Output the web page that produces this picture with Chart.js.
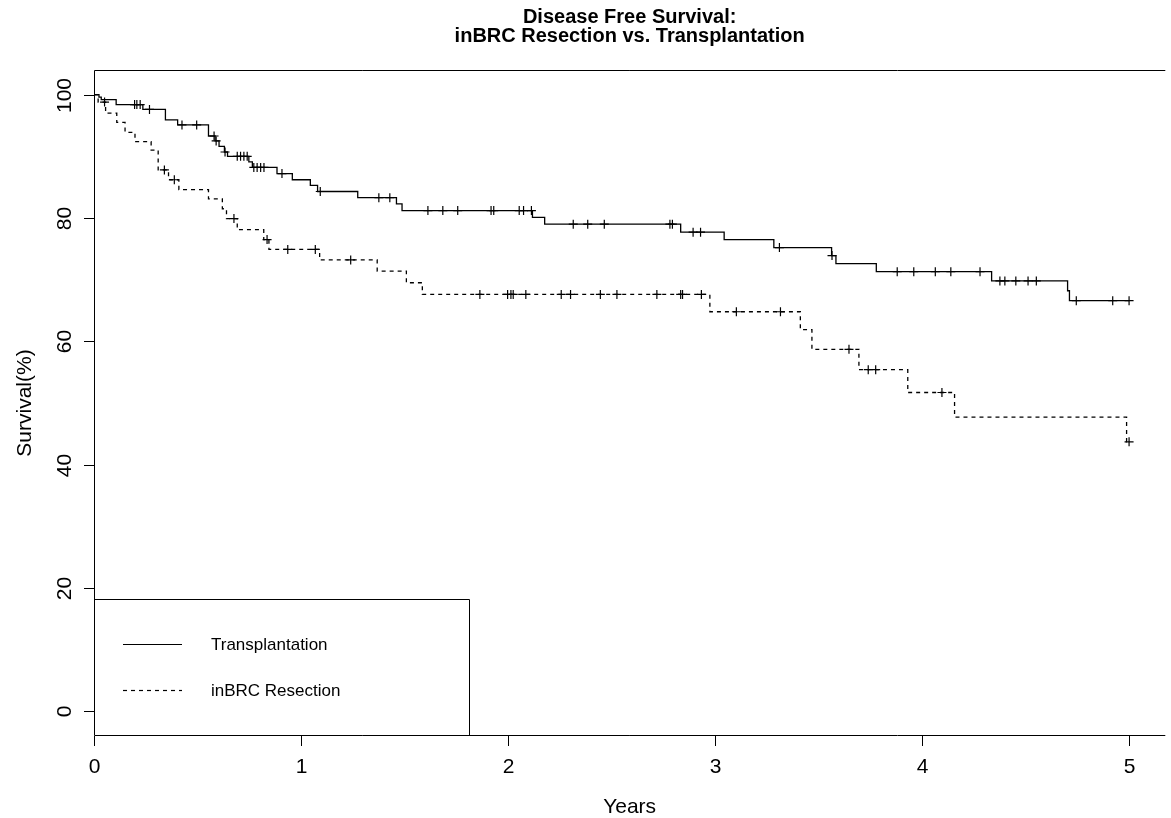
<!DOCTYPE html>
<html>
<head>
<meta charset="utf-8">
<script src="https://cdn.jsdelivr.net/npm/chart.js@4.4.0/dist/chart.umd.min.js"></script>
<style>
  body { margin: 0; background: #fff; }
  #wrap { width: 1171px; height: 818px; }
</style>
</head>
<body>
<div id="wrap"><canvas id="canvas" width="1171" height="818"></canvas></div>
<script>
  // Kaplan-Meier steps (years, survival %)
  const trTimes = [0, 0.024, 0.035, 0.107, 0.236, 0.345, 0.404, 0.553, 0.585, 0.604, 0.630, 0.645, 0.748, 0.765, 0.884, 0.958, 1.045, 1.080, 1.274, 1.461, 1.488, 2.118, 2.177, 2.834, 3.044, 3.284, 3.563, 3.584, 3.779, 4.336, 4.703, 4.712, 5.0];
  const trSurv  = [100, 99.6, 99.2, 98.4, 97.6, 95.9, 95.1, 93.3, 92.5, 91.6, 90.7, 90.0, 89.1, 88.2, 87.2, 86.2, 85.3, 84.3, 83.3, 82.3, 81.2, 80.1, 79.0, 77.7, 76.5, 75.2, 73.9, 72.6, 71.3, 69.8, 68.2, 66.6, 66.6];
  const trCensor = [0, 0.196, 0.207, 0.223, 0.268, 0.425, 0.496, 0.58, 0.59, 0.633, 0.692, 0.708, 0.724, 0.74, 0.772, 0.788, 0.805, 0.821, 0.908, 1.093, 1.376, 1.429, 1.613, 1.685, 1.757, 1.918, 1.931, 2.054, 2.075, 2.113, 2.315, 2.385, 2.465, 2.782, 2.794, 2.894, 2.93, 3.311, 3.565, 3.88, 3.96, 4.064, 4.139, 4.28, 4.376, 4.40, 4.453, 4.512, 4.552, 4.745, 4.921, 5.0];

  const reTimes = [0, 0.02, 0.056, 0.11, 0.15, 0.198, 0.276, 0.31, 0.36, 0.41, 0.553, 0.62, 0.64, 0.692, 0.82, 0.845, 1.09, 1.368, 1.509, 1.586, 2.975, 3.412, 3.468, 3.695, 3.931, 4.157, 4.988, 5.0];
  const reSurv  = [100, 98.8, 97.0, 95.5, 93.9, 92.4, 91.0, 87.8, 86.2, 84.6, 83.1, 81.5, 79.9, 78.1, 76.5, 74.9, 73.2, 71.4, 69.5, 67.6, 64.8, 61.9, 58.7, 55.4, 51.7, 47.7, 43.7, 43.7];
  const reCensor = [0.051, 0.34, 0.388, 0.676, 0.836, 0.936, 1.069, 1.24, 1.864, 1.998, 2.014, 2.025, 2.086, 2.257, 2.302, 2.446, 2.526, 2.719, 2.834, 2.843, 2.934, 3.103, 3.316, 3.647, 3.74, 3.776, 4.096, 5.0];

  const xTicks = [0, 1, 2, 3, 4, 5];
  const yTicks = [0, 20, 40, 60, 80, 100];
  const seriesNames = ['Transplantation', 'inBRC Resection'];
  const titleLines = ['Disease Free Survival:', 'inBRC Resection vs. Transplantation'];

  const FONT = '"Liberation Sans", Arial, Helvetica, sans-serif';

  // survival value of a step curve at time t (for the censor marks)
  function survAt(times, surv, t) {
    let s = surv[0];
    for (let i = 0; i < times.length; i++) {
      if (times[i] <= t) s = surv[i];
    }
    return s;
  }

  function toPoints(xs, ys) {
    return xs.map(function (x, i) { return { x: x, y: ys[i] }; });
  }

  const trCensorPts = trCensor.map(function (t) { return { x: t, y: survAt(trTimes, trSurv, t) }; });
  const reCensorPts = reCensor.map(function (t) { return { x: t, y: survAt(reTimes, reSurv, t) }; });

  // axes, box, title and legend drawn R-style
  const rFrame = {
    id: 'rFrame',
    afterDraw: function (chart) {
      const ctx = chart.ctx;
      const a = chart.chartArea;
      const xs = chart.scales.x;
      const ys = chart.scales.y;
      ctx.save();
      ctx.strokeStyle = '#000';
      ctx.fillStyle = '#000';
      ctx.lineWidth = 1;

      // box (right side is off the picture)
      ctx.beginPath();
      ctx.moveTo(a.right, a.top + 0.5);
      ctx.lineTo(a.left + 0.5, a.top + 0.5);
      ctx.lineTo(a.left + 0.5, a.bottom - 0.5);
      ctx.lineTo(a.right, a.bottom - 0.5);
      ctx.stroke();

      // x ticks
      ctx.font = '21px ' + FONT;
      ctx.textAlign = 'center';
      ctx.textBaseline = 'alphabetic';
      xTicks.forEach(function (v) {
        const px = Math.round(xs.getPixelForValue(v)) + 0.5;
        ctx.beginPath();
        ctx.moveTo(px, a.bottom);
        ctx.lineTo(px, a.bottom + 10);
        ctx.stroke();
        ctx.fillText(String(v), px, 773);
      });

      // y ticks, labels rotated
      yTicks.forEach(function (v) {
        const py = Math.round(ys.getPixelForValue(v)) + 0.5;
        ctx.beginPath();
        ctx.moveTo(a.left, py);
        ctx.lineTo(a.left - 10, py);
        ctx.stroke();
        ctx.save();
        ctx.translate(71, py);
        ctx.rotate(-Math.PI / 2);
        ctx.fillText(String(v), 0, 0);
        ctx.restore();
      });

      // axis titles
      ctx.fillText('Years', (a.left + a.right) / 2, 813);
      ctx.save();
      ctx.translate(31, (a.top + a.bottom) / 2);
      ctx.rotate(-Math.PI / 2);
      ctx.fillText('Survival(%)', 0, 0);
      ctx.restore();

      // title
      ctx.font = 'bold 20px ' + FONT;
      ctx.fillText(titleLines[0], (a.left + a.right) / 2, 23);
      ctx.fillText(titleLines[1], (a.left + a.right) / 2, 42);

      // legend
      const lx1 = xs.getPixelForValue(1.81);
      const ly0 = ys.getPixelForValue(18.16);
      ctx.fillStyle = '#fff';
      ctx.fillRect(a.left + 1, ly0, lx1 - a.left - 1, a.bottom - ly0 - 1);
      ctx.beginPath();
      ctx.moveTo(a.left + 0.5, Math.round(ly0) + 0.5);
      ctx.lineTo(Math.round(lx1) + 0.5, Math.round(ly0) + 0.5);
      ctx.lineTo(Math.round(lx1) + 0.5, a.bottom);
      ctx.stroke();

      ctx.lineWidth = 1.2;
      ctx.beginPath();
      ctx.moveTo(123, 644.5);
      ctx.lineTo(182, 644.5);
      ctx.stroke();
      ctx.setLineDash([4, 4]);
      ctx.beginPath();
      ctx.moveTo(123, 690.5);
      ctx.lineTo(182, 690.5);
      ctx.stroke();
      ctx.setLineDash([]);

      ctx.fillStyle = '#000';
      ctx.font = '17px ' + FONT;
      ctx.textAlign = 'left';
      ctx.textBaseline = 'middle';
      ctx.fillText(seriesNames[0], 211, 645);
      ctx.fillText(seriesNames[1], 211, 691);
      ctx.restore();
    }
  };

  const data = {
    datasets: [
      {
        label: seriesNames[0],
        data: toPoints(trTimes, trSurv),
        borderColor: '#000',
        borderWidth: 1.3,
        stepped: true,
        pointRadius: 0,
        fill: false,
      },
      {
        label: seriesNames[1],
        data: toPoints(reTimes, reSurv),
        borderColor: '#000',
        borderWidth: 1.3,
        borderDash: [4, 4],
        stepped: true,
        pointRadius: 0,
        fill: false,
      },
      {
        label: 'censor1',
        data: trCensorPts,
        showLine: false,
        pointStyle: 'cross',
        pointRadius: 4.5,
        borderColor: '#000',
        borderWidth: 1.2,
      },
      {
        label: 'censor2',
        data: reCensorPts,
        showLine: false,
        pointStyle: 'cross',
        pointRadius: 4.5,
        borderColor: '#000',
        borderWidth: 1.2,
      },
    ],
  };

  const options = {
    responsive: false,
    animation: false,
    devicePixelRatio: 1,
    layout: { padding: { left: 94, top: 70, right: 0, bottom: 82 } },
    plugins: {
      legend: { display: false },
      title: { display: false },
      tooltip: { enabled: false },
    },
    scales: {
      x: { type: 'linear', min: 0, max: 5.175, display: false },
      y: { type: 'linear', min: -4, max: 104, display: false },
    },
  };

  const canvas = document.getElementById('canvas');
  const chart = new Chart(canvas, {
    type: 'line',
    data: data,
    options: options,
    plugins: [rFrame],
  });
</script>
</body>
</html>
